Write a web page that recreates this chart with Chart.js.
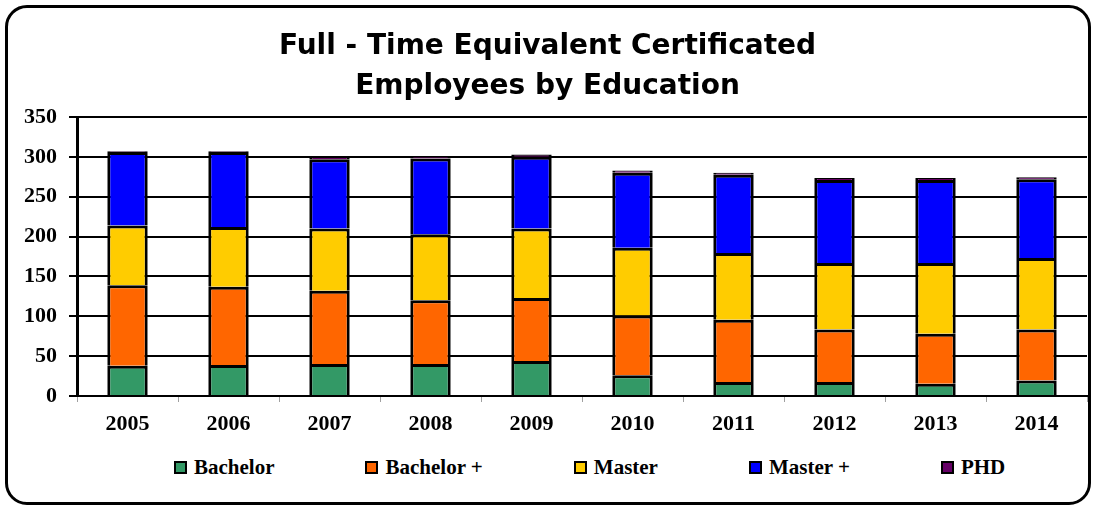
<!DOCTYPE html>
<html>
<head>
<meta charset="utf-8">
<script src="https://cdn.jsdelivr.net/npm/chart.js@4.4.1/dist/chart.umd.min.js"></script>
<style>
  html, body { margin: 0; padding: 0; background: #fff; }
  #frame {
    position: absolute; left: 5px; top: 5px; width: 1086px; height: 500px;
    box-sizing: border-box; border: 3px solid #000; border-radius: 22px; background: #fff;
  }
  #c { position: absolute; left: 0; top: 0; }
  #legend {
    position: absolute; left: 166px; top: 447px; height: 24px;
    display: flex; align-items: center; gap: 91px;
    font-family: "Liberation Serif", "Times New Roman", serif; font-weight: bold; font-size: 21px; color: #000;
  }
  .item { display: flex; align-items: center; white-space: nowrap; }
  .box { width: 9px; height: 9px; border: 2px solid #000; margin-right: 7px; }
</style>
</head>
<body>
<div id="frame">
  <canvas id="c" width="1080" height="441"></canvas>
  <div id="legend"></div>
</div>
<script>
const categories = ["2005","2006","2007","2008","2009","2010","2011","2012","2013","2014"];
const seriesNames = ["Bachelor","Bachelor +","Master","Master +","PHD"];
const bachelor     = [38, 39, 40, 40, 44, 26, 17.5, 17.5, 15.5, 19.5];
const bachelorPlus = [101, 98, 92, 80, 79, 75, 78, 66, 62.5, 64];
const master       = [75, 75, 78, 83, 87, 85, 84, 83.5, 89, 89.5];
const masterPlus   = [92, 94, 87, 95, 90, 94, 98, 104, 104, 99];
const phd          = [1, 1, 3, 2.5, 3, 3, 2.5, 2.5, 2.5, 2.5];
const yTicks = [0, 50, 100, 150, 200, 250, 300, 350];
const titleLines = ["Full - Time Equivalent Certificated", "Employees by Education"];

const colors = ["#339966", "#FF6600", "#FFCC00", "#0000FF", "#660066"];
const values = [bachelor, bachelorPlus, master, masterPlus, phd];

const serif = '"Liberation Serif", "Times New Roman", serif';

const datasets = seriesNames.map((name, i) => ({
  label: name,
  data: values[i],
  backgroundColor: colors[i],
  borderColor: "#000",
  borderWidth: 3,
  categoryPercentage: 1.0,
  barPercentage: 0.4
}));

const chart = new Chart(document.getElementById("c"), {
  type: "bar",
  data: { labels: categories, datasets },
  options: {
    responsive: false,
    animation: false,
    layout: { padding: { left: 0, right: 1, top: 0, bottom: 0 } },
    plugins: {
      legend: { display: false },
      tooltip: { enabled: false },
      title: {
        display: true,
        text: titleLines,
        color: "#000",
        font: { family: '"DejaVu Sans", "Liberation Sans", Arial, sans-serif', weight: "bold", size: 28, lineHeight: 39.5/28 },
        padding: { top: 19.25, bottom: 10.75 }
      }
    },
    scales: {
      x: {
        stacked: true,
        offset: true,
        grid: { display: true, drawOnChartArea: false, drawTicks: true, tickLength: 6, color: "#a0a0a0", lineWidth: 1, offset: true },
        border: { display: true, color: "#000", width: 2 },
        ticks: { color: "#000", padding: 9, font: { family: serif, weight: "bold", size: 22 } },
        afterFit: (s) => { s.height = 53; }
      },
      y: {
        stacked: true,
        min: 0,
        max: 350,
        afterBuildTicks: (s) => { s.ticks = yTicks.map(v => ({ value: v })); },
        grid: { color: "#000", lineWidth: 2, drawTicks: true, tickLength: 8, tickColor: "#000" },
        border: { display: true, color: "#000", width: 3 },
        ticks: { color: "#000", padding: 12, font: { family: serif, weight: "bold", size: 22 } },
        afterFit: (s) => { s.width = 69; }
      }
    }
  }
});

// HTML legend generated from the chart's datasets
const legendEl = document.getElementById("legend");
chart.data.datasets.forEach(ds => {
  const item = document.createElement("div");
  item.className = "item";
  const box = document.createElement("span");
  box.className = "box";
  box.style.background = ds.backgroundColor;
  const txt = document.createElement("span");
  txt.textContent = ds.label;
  item.appendChild(box);
  item.appendChild(txt);
  legendEl.appendChild(item);
});
</script>
</body>
</html>
